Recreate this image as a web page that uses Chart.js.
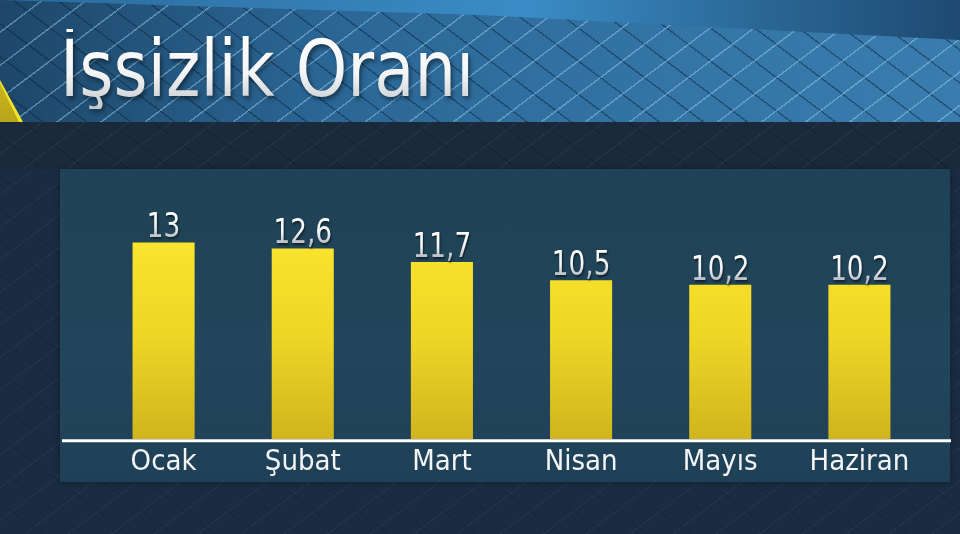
<!DOCTYPE html>
<html lang="tr">
<head>
<meta charset="utf-8">
<title>İşsizlik Oranı</title>
<script src="https://cdn.jsdelivr.net/npm/chart.js@4.4.0/dist/chart.umd.min.js"></script>
<style>
    html, body { margin: 0; padding: 0; }
    body {
        width: 960px; height: 534px; overflow: hidden; position: relative;
        background-color: #1a2c41;
        background-image:
            repeating-linear-gradient(143deg, transparent 0 25px, rgba(90,140,180,0.10) 25px 26px),
            repeating-linear-gradient(37deg, transparent 0 25px, rgba(0,10,20,0.15) 25px 26px);
        font-family: "DejaVu Sans Condensed", sans-serif;
    }
    #header {
        position: absolute; left: 0; top: 0; width: 960px; height: 122px;
        background-color: #2a6896;
        background-image:
            repeating-linear-gradient(143deg, transparent 0 25px, rgba(150,205,240,0.45) 25px 26.5px),
            repeating-linear-gradient(37deg, transparent 0 25px, rgba(10,35,60,0.45) 25px 26.5px),
            linear-gradient(90deg, #1e4769 0%, #2b6796 35%, #3475a6 70%, #3a7cae 100%);
    }
    #glow {
        position: absolute; left: 0; top: 0; width: 960px; height: 42px;
        background: linear-gradient(90deg, #2a6a9c 0%, #3a8cc6 55%, #2a6694 80%, #1e4a72 100%);
        clip-path: polygon(0 0, 960px 0, 960px 40px, 480px 15px, 0 0);
    }
    #band {
        position: absolute; left: 0; top: 122px; width: 960px; height: 47px;
        background-color: #1a2a3b;
        background-image:
            repeating-linear-gradient(143deg, transparent 0 25px, rgba(90,140,180,0.12) 25px 26px),
            repeating-linear-gradient(37deg, transparent 0 25px, rgba(0,0,0,0.18) 25px 26px);
    }
    #tri {
        position: absolute; left: 0; top: 80px; width: 23px; height: 42px;
        background: #f2e52a;
        clip-path: polygon(0 0, 23px 42px, 0 42px);
    }
    #tri2 {
        position: absolute; left: 0; top: 83px; width: 19px; height: 39px;
        background: linear-gradient(180deg, #c9b51c, #b9a51a);
        clip-path: polygon(0 0, 19px 39px, 0 39px);
    }
    #panel {
        position: absolute; left: 60px; top: 169px; width: 890px; height: 313px;
        background: linear-gradient(180deg, #1f4256 0%, #21455a 60%, #1f4157 100%);
        box-shadow: 0 0 6px rgba(0,0,0,0.35);
    }
    h1 {
        position: absolute; left: 60px; top: 29px; margin: 0;
        font-size: 78px; line-height: 80px; font-weight: normal;
        transform: scaleX(0.935); transform-origin: 0 0;
        white-space: nowrap;
        background: linear-gradient(180deg, #ffffff 0%, #f4f5f6 55%, #c4c8cc 100%);
        -webkit-background-clip: text; background-clip: text;
        color: transparent;
        filter: drop-shadow(2px 3px 2px rgba(0,0,0,0.45));
    }
    #wrap { position: absolute; left: 0; top: 0; width: 960px; height: 534px; }
</style>
</head>
<body>
<div id="header"></div>
<div id="glow"></div>
<div id="band"></div>
<div id="tri"></div>
<div id="tri2"></div>
<div id="panel"></div>
<h1>İşsizlik Oranı</h1>
<div id="wrap"><canvas id="chart" width="960" height="534"></canvas></div>

<script>
// Veriler (aylık işsizlik oranı, %)
const months = ['Ocak', 'Şubat', 'Mart', 'Nisan', 'Mayıs', 'Haziran'];
const rates = [13, 12.6, 11.7, 10.5, 10.2, 10.2];
const valueLabels = ['13', '12,6', '11,7', '10,5', '10,2', '10,2'];
const yMin = 0;
const yMax = 16;

const labelFont = '"DejaVu Sans Condensed", sans-serif';

// sarı çubuk degradesi
function barGradient(context) {
    const chart = context.chart;
    const area = chart.chartArea;
    if (!area) return '#e8cf22';
    const g = chart.ctx.createLinearGradient(0, area.top + 40, 0, area.bottom);
    g.addColorStop(0, '#fbe52d');
    g.addColorStop(0.5, '#eed526');
    g.addColorStop(1, '#d0b51d');
    return g;
}

// değer etiketleri
const valueLabelPlugin = {
    id: 'valueLabels',
    afterDatasetsDraw(chart) {
        const ctx = chart.ctx;
        const meta = chart.getDatasetMeta(0);
        meta.data.forEach((bar, i) => {
            ctx.save();
            ctx.translate(bar.x, bar.y - 5);
            ctx.scale(0.86, 1);
            ctx.font = '34px ' + labelFont;
            ctx.textAlign = 'center';
            ctx.textBaseline = 'alphabetic';
            const g = ctx.createLinearGradient(0, -26, 0, 0);
            g.addColorStop(0, '#ffffff');
            g.addColorStop(0.6, '#f2f3f4');
            g.addColorStop(1, '#b9bec4');
            ctx.shadowColor = 'rgba(0,0,0,0.5)';
            ctx.shadowOffsetX = 1;
            ctx.shadowOffsetY = 2;
            ctx.shadowBlur = 2;
            ctx.fillStyle = g;
            ctx.fillText(valueLabels[i], 0, 0);
            ctx.restore();
        });
    }
};

// beyaz taban çizgisi
const baselinePlugin = {
    id: 'baseline',
    afterDatasetsDraw(chart) {
        const ctx = chart.ctx;
        const y = chart.scales.y.getPixelForValue(yMin) + 1.5;
        ctx.save();
        ctx.strokeStyle = '#ffffff';
        ctx.lineWidth = 3;
        ctx.beginPath();
        ctx.moveTo(62, y);
        ctx.lineTo(951, y);
        ctx.stroke();
        ctx.restore();
    }
};

new Chart(document.getElementById('chart'), {
    type: 'bar',
    data: {
        labels: months,
        datasets: [{
            data: rates,
            backgroundColor: barGradient,
            borderWidth: 0,
            barPercentage: 0.446,
            categoryPercentage: 1
        }]
    },
    options: {
        responsive: false,
        animation: false,
        layout: { padding: { left: 94, right: 31, top: 197, bottom: 48 } },
        plugins: {
            legend: { display: false },
            tooltip: { enabled: false },
            title: { display: false }
        },
        scales: {
            x: {
                grid: { display: false, drawTicks: false },
                border: { display: false },
                ticks: {
                    color: '#f2f4f6',
                    padding: 6,
                    font: { family: labelFont, size: 29 }
                }
            },
            y: {
                display: false,
                min: yMin,
                max: yMax
            }
        }
    },
    plugins: [valueLabelPlugin, baselinePlugin]
});
</script>
</body>
</html>
